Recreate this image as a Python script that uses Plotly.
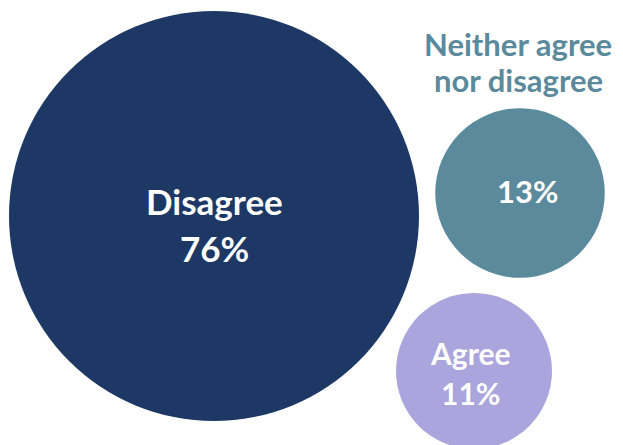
import plotly.graph_objects as go

# Survey response shares (percent)
categories = ["Disagree", "Neither agree nor disagree", "Agree"]
values = [76, 13, 11]
value_labels = ["76%", "13%", "11%"]

# Bubble layout (pixel-space coordinates, y grows downward)
centers_x = [214, 520, 474]
centers_y = [216, 193, 371]
colors = ["#1d3865", "#5b8a9c", "#aaa5dc"]
max_diameter = 410

W, H = 623, 445
font_family = "Lato, 'Open Sans', sans-serif"

fig = go.Figure()
fig.add_trace(go.Scatter(
    x=centers_x,
    y=centers_y,
    mode="markers",
    marker=dict(
        size=values,
        sizemode="area",
        sizeref=2.0 * max(values) / (max_diameter ** 2),
        color=colors,
        opacity=1,
        line=dict(width=0),
    ),
    cliponaxis=False,
    hovertext=categories,
    hoverinfo="text",
    showlegend=False,
))

annotations = [
    # Disagree label inside the large bubble
    dict(x=centers_x[0], y=201, text="<b>" + categories[0] + "</b>",
         font=dict(size=35, color="white", family=font_family)),
    dict(x=centers_x[0], y=248, text="<b>" + value_labels[0] + "</b>",
         font=dict(size=35, color="white", family=font_family)),
    # Neutral: category above, value inside
    dict(x=518, y=44, text="<b>Neither agree</b>",
         font=dict(size=31, color="#5a8a9b", family=font_family)),
    dict(x=518, y=80, text="<b>nor disagree</b>",
         font=dict(size=31, color="#5a8a9b", family=font_family)),
    dict(x=527, y=191, text="<b>" + value_labels[1] + "</b>",
         font=dict(size=31, color="white", family=font_family)),
    # Agree label inside the small bubble
    dict(x=470, y=353, text="<b>" + categories[2] + "</b>",
         font=dict(size=30, color="white", family=font_family)),
    dict(x=470, y=393, text="<b>" + value_labels[2] + "</b>",
         font=dict(size=30, color="white", family=font_family)),
]
for a in annotations:
    a.update(xref="x", yref="y", showarrow=False,
             xanchor="center", yanchor="middle")

fig.update_layout(
    width=W,
    height=H,
    margin=dict(l=0, r=0, t=0, b=0),
    paper_bgcolor="white",
    plot_bgcolor="white",
    annotations=annotations,
    xaxis=dict(range=[0, W], visible=False, fixedrange=True),
    yaxis=dict(range=[H, 0], visible=False, fixedrange=True),
)

fig.write_html("out.html")
